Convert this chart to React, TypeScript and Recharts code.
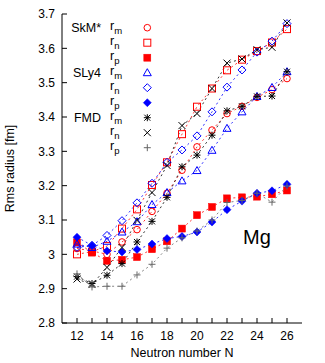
import React from "react";
import { LineChart, Line, XAxis, YAxis, Label } from "recharts";

// neutron number N and rms radii [fm] for Mg isotopes
const neutronN = [12, 13, 14, 15, 16, 17, 18, 19, 20, 21, 22, 23, 24, 25, 26];

const skmRm = [3.017, 3.01, 3.0, 3.036, 3.072, 3.125, 3.178, 3.245, 3.313, 3.362, 3.41, 3.431, 3.457, 3.48, 3.512];
const skmRn = [3.0, 3.008, 3.024, 3.075, 3.131, 3.202, 3.268, 3.35, 3.43, 3.483, 3.536, 3.567, 3.592, 3.617, 3.656];
const skmRp = [3.035, 3.005, 2.981, 2.984, 2.992, 3.015, 3.038, 3.075, 3.114, 3.138, 3.163, 3.166, 3.168, 3.175, 3.186];

const sly4Rm = [3.03, 3.02, 3.038, 3.065, 3.095, 3.145, 3.18, 3.214, 3.244, 3.303, 3.367, 3.415, 3.46, 3.486, 3.532];
const sly4Rn = [3.02, 3.026, 3.055, 3.098, 3.15, 3.207, 3.268, 3.304, 3.345, 3.415, 3.487, 3.537, 3.589, 3.621, 3.672];
const sly4Rp = [3.05, 3.026, 3.01, 3.007, 3.014, 3.03, 3.046, 3.052, 3.065, 3.094, 3.13, 3.155, 3.178, 3.185, 3.204];

const fmdRm = [2.935, 2.915, 2.939, 2.973, 3.036, 3.096, 3.166, 3.255, 3.289, 3.347, 3.418, 3.431, 3.46, 3.461, 3.532];
const fmdRn = [2.928, 2.912, 2.962, 3.02, 3.099, 3.18, 3.259, 3.375, 3.41, 3.483, 3.557, 3.569, 3.596, 3.603, 3.674];
const fmdRp = [2.943, 2.905, 2.907, 2.907, 2.94, 2.971, 3.018, 3.048, 3.068, 3.1, 3.151, 3.157, 3.178, 3.152, 3.199];

const xTicks = [12, 13, 14, 15, 16, 17, 18, 19, 20, 21, 22, 23, 24, 25, 26];
const yTicks = [2.8, 2.9, 3.0, 3.1, 3.2, 3.3, 3.4, 3.5, 3.6, 3.7];

const FONT = "'Liberation Sans', Arial, sans-serif";
const RED = "#ff0000";
const BLUE = "#0000ff";
const BLACK = "#000000";
const GRAY = "#666666";

type Kind =
  | "circle"
  | "square"
  | "filledSquare"
  | "triangle"
  | "diamond"
  | "filledDiamond"
  | "star"
  | "cross"
  | "plus";

function Marker({ kind, cx, cy, color }: { kind: Kind; cx: number; cy: number; color: string }) {
  const s = 3.5;
  switch (kind) {
    case "circle":
      return <circle cx={cx} cy={cy} r={3.3} fill="none" stroke={color} strokeWidth={1} />;
    case "square":
      return <rect x={cx - s} y={cy - s} width={2 * s} height={2 * s} fill="none" stroke={color} strokeWidth={1} />;
    case "filledSquare":
      return <rect x={cx - s} y={cy - s} width={2 * s} height={2 * s} fill={color} stroke={color} strokeWidth={0.5} />;
    case "triangle":
      return (
        <polygon
          points={`${cx},${cy - 4} ${cx - 4},${cy + 3} ${cx + 4},${cy + 3}`}
          fill="none"
          stroke={color}
          strokeWidth={1}
        />
      );
    case "diamond":
      return (
        <polygon
          points={`${cx},${cy - 4} ${cx + 4},${cy} ${cx},${cy + 4} ${cx - 4},${cy}`}
          fill="none"
          stroke={color}
          strokeWidth={1}
        />
      );
    case "filledDiamond":
      return (
        <polygon
          points={`${cx},${cy - 4} ${cx + 4},${cy} ${cx},${cy + 4} ${cx - 4},${cy}`}
          fill={color}
          stroke={color}
          strokeWidth={0.5}
        />
      );
    case "star":
      return (
        <g stroke={color} strokeWidth={1}>
          <line x1={cx - s} y1={cy} x2={cx + s} y2={cy} />
          <line x1={cx} y1={cy - s} x2={cx} y2={cy + s} />
          <line x1={cx - 3} y1={cy - 3} x2={cx + 3} y2={cy + 3} />
          <line x1={cx - 3} y1={cy + 3} x2={cx + 3} y2={cy - 3} />
        </g>
      );
    case "cross":
      return (
        <g stroke={color} strokeWidth={1}>
          <line x1={cx - s} y1={cy - s} x2={cx + s} y2={cy + s} />
          <line x1={cx - s} y1={cy + s} x2={cx + s} y2={cy - s} />
        </g>
      );
    case "plus":
      return (
        <g stroke={color} strokeWidth={1}>
          <line x1={cx - s} y1={cy} x2={cx + s} y2={cy} />
          <line x1={cx} y1={cy - s} x2={cx} y2={cy + s} />
        </g>
      );
  }
  return null;
}

const series: { key: string; values: number[]; kind: Kind; color: string; line: string; group: string; sub: string }[] = [
  { key: "skmRm", values: skmRm, kind: "circle", color: RED, line: RED, group: "SkM*", sub: "m" },
  { key: "skmRn", values: skmRn, kind: "square", color: RED, line: RED, group: "", sub: "n" },
  { key: "skmRp", values: skmRp, kind: "filledSquare", color: RED, line: RED, group: "", sub: "p" },
  { key: "sly4Rm", values: sly4Rm, kind: "triangle", color: BLUE, line: BLUE, group: "SLy4", sub: "m" },
  { key: "sly4Rn", values: sly4Rn, kind: "diamond", color: BLUE, line: BLUE, group: "", sub: "n" },
  { key: "sly4Rp", values: sly4Rp, kind: "filledDiamond", color: BLUE, line: BLUE, group: "", sub: "p" },
  { key: "fmdRm", values: fmdRm, kind: "star", color: BLACK, line: BLACK, group: "FMD", sub: "m" },
  { key: "fmdRn", values: fmdRn, kind: "cross", color: BLACK, line: BLACK, group: "", sub: "n" },
  { key: "fmdRp", values: fmdRp, kind: "plus", color: GRAY, line: GRAY, group: "", sub: "p" },
];

const data = neutronN.map((n, i) => {
  const row: Record<string, number> = { N: n };
  for (const s of series) row[s.key] = s.values[i];
  return row;
});

const tickStyle = { fill: "#000", fontSize: 12, fontFamily: FONT };

function Overlay() {
  return (
    <svg
      width={325}
      height={363}
      style={{ position: "absolute", left: 0, top: 0, pointerEvents: "none" }}
      fontFamily={FONT}
    >
      {series.map((s, i) => {
        const y = 27.7 + 15 * i;
        return (
          <g key={s.key}>
            {s.group && (
              <text x={101} y={y + 4} textAnchor="end" fontSize={12.5} fill="#000">
                {s.group}
              </text>
            )}
            <text x={110} y={y + 2.5} fontSize={12.5} fill="#000">
              r
              <tspan fontSize={9.5} dy={4}>
                {s.sub}
              </tspan>
            </text>
            <Marker kind={s.kind} cx={147.3} cy={y} color={s.color} />
          </g>
        );
      })}
      <text x={243} y={244} fontSize={20} fill="#000">
        Mg
      </text>
      <text
        x={0}
        y={0}
        transform="translate(14,168.5) rotate(-90)"
        textAnchor="middle"
        fontSize={12.5}
        fill="#000"
      >
        Rms radius [fm]
      </text>
    </svg>
  );
}

export default function App() {
  return (
    <div style={{ position: "absolute", left: 0, top: 0, width: 325, height: 363, background: "#fff" }}>
      <LineChart
        width={325}
        height={363}
        data={data}
        margin={{ top: 14, right: 23, bottom: 0, left: 0 }}
        style={{ fontFamily: FONT }}
      >
        <XAxis
          xAxisId="x"
          dataKey="N"
          type="number"
          domain={[11, 27]}
          ticks={xTicks}
          allowDataOverflow
          height={40}
          tickSize={-5}
          tickMargin={13}
          tickFormatter={(v: number) => (v % 2 === 0 ? String(v) : "")}
          tick={tickStyle}
          stroke="#000"
        >
          <Label
            value="Neutron number N"
            position="insideBottom"
            offset={6}
            style={{ fill: "#000", fontSize: 12.5, fontFamily: FONT }}
          />
        </XAxis>
        <XAxis
          xAxisId="top"
          dataKey="N"
          type="number"
          orientation="top"
          domain={[11, 27]}
          ticks={xTicks}
          allowDataOverflow
          height={0}
          tickSize={-5}
          tickFormatter={() => ""}
          stroke="#000"
        />
        <YAxis
          yAxisId="y"
          type="number"
          domain={[2.8, 3.7]}
          ticks={yTicks}
          allowDataOverflow
          width={62}
          tickSize={-5}
          tickMargin={12}
          tickFormatter={(v: number) => String(+v.toFixed(1))}
          tick={tickStyle}
          stroke="#000"
        />
        <YAxis
          yAxisId="right"
          type="number"
          orientation="right"
          domain={[2.8, 3.7]}
          ticks={yTicks}
          allowDataOverflow
          width={0}
          tickSize={-5}
          tickFormatter={() => ""}
          stroke="#000"
        />
        {series.map((s) => (
          <Line
            key={s.key}
            xAxisId="x"
            yAxisId="y"
            dataKey={s.key}
            type="linear"
            stroke={s.line}
            strokeWidth={1}
            strokeDasharray="2 3"
            strokeOpacity={0.8}
            isAnimationActive={false}
            dot={(p: any) => (
              <Marker key={`${s.key}-${p.index}`} kind={s.kind} cx={p.cx} cy={p.cy} color={s.color} />
            )}
            activeDot={false}
          />
        ))}
      </LineChart>
      <Overlay />
    </div>
  );
}
